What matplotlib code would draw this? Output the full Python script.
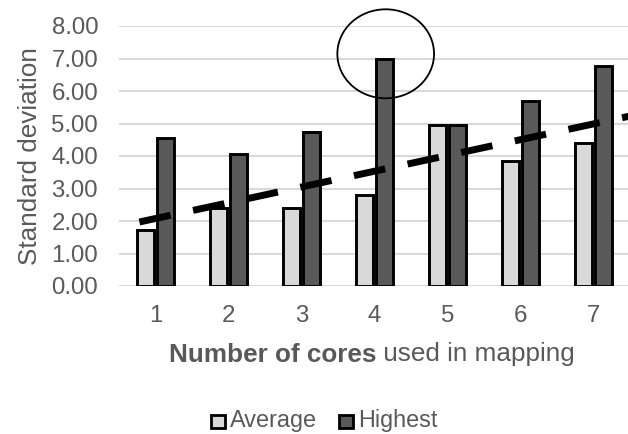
import matplotlib
matplotlib.use("Agg")
import matplotlib.pyplot as plt
from matplotlib.patches import Ellipse, Rectangle
import numpy as np

plt.rcParams['font.family'] = ['Liberation Sans', 'DejaVu Sans']

# Data
cores = [1, 2, 3, 4, 5, 6, 7]
average = [1.72, 2.39, 2.39, 2.80, 4.95, 3.86, 4.41]
highest = [4.54, 4.05, 4.73, 7.00, 4.95, 5.70, 6.78]
trend_x = [0.78, 7.5]
trend_y = [1.97, 5.23]
yticks = [0, 1, 2, 3, 4, 5, 6, 7, 8]

TEXT = '#595959'
AVG_C = '#d9d9d9'
HIGH_C = '#595959'
GRID = '#d9d9d9'

W, H = 628, 434
fig = plt.figure(figsize=(W / 100, H / 100), dpi=100)
ax = fig.add_axes([119 / W, 1 - 286 / H, 511 / W, 260 / H])

x = np.array(cores, dtype=float)
bw = 0.23
off = 0.137
ax.bar(x - off, average, width=bw, color=AVG_C, edgecolor='black',
       linewidth=2.1, zorder=3)
ax.bar(x + off, highest, width=bw, color=HIGH_C, edgecolor='black',
       linewidth=2.1, zorder=3)

# Trend line
ln, = ax.plot(trend_x, trend_y, color='black', linewidth=5.0,
              solid_capstyle='butt', dash_capstyle='butt', zorder=4,
              clip_on=False)
ln.set_dashes([4.6, 3.3])

ax.set_xlim(0.5, 7.5)
ax.set_ylim(0, 8)
ax.set_yticks(yticks)
ax.set_yticklabels([f"{v:.2f}" for v in yticks])
ax.set_xticks(cores)
ax.set_xticklabels([str(c) for c in cores])
ax.tick_params(axis='both', length=0, labelsize=17.3, colors=TEXT)
ax.tick_params(axis='y', pad=15)
ax.tick_params(axis='x', pad=13.5)
ax.yaxis.grid(True, color=GRID, linewidth=1.5, zorder=0)
ax.set_axisbelow(True)
for s in ax.spines.values():
    s.set_visible(False)

# Axis labels
fig.text(30 / W, 1 - 156 / H, "Standard deviation", rotation=90,
         ha='center', va='center', fontsize=18.8, color=TEXT)
t1 = fig.text(169 / W, 1 - 361.5 / H, "Number of cores", fontsize=18.8,
              fontweight='bold', color=TEXT, ha='left', va='baseline')
fig.canvas.draw()
bb = t1.get_window_extent()
fig.text(bb.x1 / W, 1 - 361.5 / H, " used in mapping", fontsize=18.8,
         color=TEXT, ha='left', va='baseline')

# Highlight ring around the peak value
ring = Ellipse((385.7 / W, 1 - 53.8 / H), 96.7 / W, 89 / H,
               transform=fig.transFigure, fill=False, edgecolor='black',
               linewidth=1.3, zorder=5)
fig.patches.append(ring)

# Legend
for x0, col, label in [(211, AVG_C, "Average"), (339, HIGH_C, "Highest")]:
    sq = Rectangle((x0 / W, 1 - 428 / H), 13.5 / W, 13.5 / H,
                   transform=fig.transFigure, facecolor=col,
                   edgecolor='black', linewidth=2.0)
    fig.patches.append(sq)
    fig.text((x0 + 19) / W, 1 - 421 / H, label, fontsize=16.8, color=TEXT,
             ha='left', va='center')

fig.savefig("out.png", dpi=100)
